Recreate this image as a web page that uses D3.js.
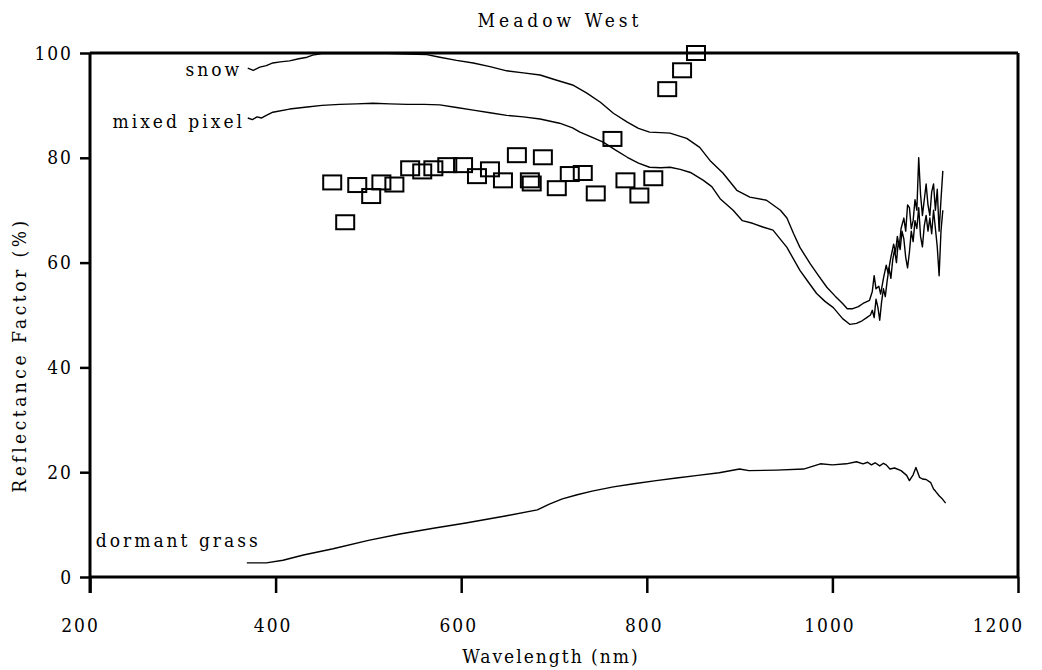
<!DOCTYPE html>
<html>
<head>
<meta charset="utf-8">
<script src="https://cdn.jsdelivr.net/npm/d3@7"></script>
<style>
  body { margin: 0; background: #fff; }
  text { font-family: "DejaVu Serif Condensed", "DejaVu Serif", serif; font-stretch: condensed; fill: #000; }
</style>
</head>
<body>
<svg id="chart"></svg>
<script>
// spectra: [wavelength nm, reflectance %]
const snow = [
  [370, 97.1], [376, 96.7], [383, 97.3], [390, 97.6], [397, 98.1], [405, 98.3], [415, 98.5],
  [425, 98.9], [434, 99.2], [440, 99.6], [450, 99.9], [480, 99.9], [520, 99.9], [563, 99.7],
  [577, 99.2], [595, 98.6], [613, 98.1], [631, 97.4], [649, 96.6], [667, 96.2], [685, 95.8],
  [703, 94.8], [720, 93.9], [735, 92.4], [750, 90.6], [764, 88.5], [779, 86.8], [791, 85.6],
  [803, 84.9], [815, 84.8], [825, 84.7], [843, 83.7], [857, 82.0], [868, 79.5], [882, 77.1],
  [897, 73.8], [911, 72.5], [929, 71.9], [944, 70.0], [951, 68.5], [958, 65.6], [965, 62.9],
  [976, 59.8], [985, 57.5], [994, 55.3], [1003, 53.6], [1011, 52.2], [1016, 51.2], [1022, 51.2],
  [1028, 51.6], [1033, 52.2], [1040, 52.8], [1043, 54.5], [1045, 57.5], [1047, 55.0], [1050, 55.5],
  [1052, 54.0], [1055, 57.0], [1058, 59.5], [1060, 58.0], [1063, 61.0], [1066, 63.5], [1068, 62.0],
  [1070, 65.0], [1072, 63.0], [1074, 66.5], [1077, 68.5], [1079, 66.0], [1081, 71.0], [1083, 70.5],
  [1085, 66.5], [1087, 68.0], [1089, 72.0], [1091, 70.0], [1093, 80.0], [1095, 73.0], [1097, 69.0],
  [1099, 72.0], [1101, 75.0], [1103, 71.0], [1105, 69.0], [1107, 73.5], [1109, 75.0], [1111, 70.0],
  [1113, 74.0], [1115, 66.0], [1117, 72.0], [1119, 77.5]
]

const mixedPixel = [
  [370, 87.6], [375, 87.3], [380, 87.8], [385, 87.6], [390, 88.1], [397, 88.7], [415, 89.3],
  [434, 89.7], [450, 90.0], [469, 90.2], [487, 90.3], [505, 90.4], [523, 90.3], [542, 90.2],
  [560, 90.2], [577, 90.1], [595, 89.6], [613, 89.1], [631, 88.6], [649, 88.1], [667, 87.8],
  [685, 87.4], [706, 86.6], [720, 85.7], [728, 84.9], [740, 84.0], [753, 83.0], [766, 81.5],
  [779, 80.1], [791, 79.0], [803, 78.2], [815, 78.1], [825, 78.2], [836, 77.8], [847, 77.2],
  [861, 75.7], [870, 74.5], [879, 72.2], [893, 70.0], [903, 68.0], [914, 67.5], [925, 66.8],
  [936, 66.2], [951, 62.9], [965, 58.5], [974, 56.3], [983, 54.1], [992, 52.6], [1001, 51.4],
  [1011, 49.3], [1019, 48.2], [1026, 48.4], [1032, 48.9], [1037, 49.5], [1041, 50.0], [1043, 50.9],
  [1045, 49.5], [1047, 53.0], [1049, 51.5], [1051, 49.0], [1053, 52.5], [1055, 55.0], [1057, 53.5],
  [1059, 56.5], [1061, 59.0], [1063, 57.0], [1065, 60.5], [1067, 62.5], [1069, 60.0], [1071, 64.0],
  [1073, 62.5], [1075, 66.0], [1077, 64.5], [1079, 61.0], [1081, 59.0], [1083, 62.0], [1085, 66.0],
  [1087, 64.0], [1089, 68.0], [1091, 66.5], [1093, 70.5], [1095, 65.0], [1097, 63.0], [1099, 67.0],
  [1101, 69.0], [1103, 66.0], [1105, 68.5], [1107, 65.5], [1109, 70.0], [1111, 66.5], [1113, 63.0],
  [1115, 57.5], [1117, 66.0], [1119, 70.0]
]

const dormantGrass = [
  [369, 2.7], [390, 2.7], [408, 3.2], [430, 4.2], [462, 5.4], [500, 7.0], [534, 8.2], [570, 9.3],
  [605, 10.3], [649, 11.7], [682, 12.8], [695, 13.9], [709, 14.9], [725, 15.7], [741, 16.4],
  [764, 17.2], [786, 17.8], [810, 18.4], [832, 18.9], [855, 19.4], [878, 19.9], [900, 20.6],
  [910, 20.3], [940, 20.4], [969, 20.6], [987, 21.6], [1000, 21.4], [1015, 21.6], [1026, 22.0],
  [1033, 21.6], [1038, 21.9], [1042, 21.4], [1046, 21.8], [1051, 21.2], [1055, 21.7], [1058, 21.4],
  [1062, 20.6], [1067, 20.8], [1074, 20.3], [1080, 19.4], [1083, 18.4], [1087, 19.5], [1090, 20.9],
  [1094, 19.0], [1097, 18.7], [1101, 18.6], [1106, 18.0], [1109, 16.8], [1111, 16.4], [1115, 15.5],
  [1118, 15.0], [1122, 14.1]
]

// square markers (field measurements)
const fieldPoints = [
  [461, 75.3], [488, 74.8], [503, 72.7], [514, 75.3], [528, 74.9], [475, 67.7], [545, 78.0],
  [558, 77.4], [570, 78.0], [585, 78.6], [602, 78.6], [617, 76.5], [631, 77.8], [645, 75.7],
  [660, 80.5], [688, 80.1], [674, 75.7], [676, 75.1], [703, 74.2], [717, 76.9], [731, 77.1],
  [745, 73.2], [763, 83.6], [777, 75.7], [792, 72.8], [807, 76.1], [822, 93.1], [838, 96.7],
  [853, 100.0]
]

const xTicks = [200, 400, 600, 800, 1000, 1200]
const yTicks = [0, 20, 40, 60, 80, 100]

// curve labels: text, wavelength/value where the label ends
const curveLabels = [
  {text: 'snow', x: 364, y: 95.6},
  {text: 'mixed pixel', x: 367, y: 85.7},
  {text: 'dormant grass', x: 384, y: 5.7}
]

class SpectraChart {
    constructor(config) {
        this.config = {
            parentElement: config.parentElement,
            containerWidth: config.containerWidth || 1042,
            containerHeight: config.containerHeight || 670,
            margin: {top: 53, right: 24, bottom: 93, left: 90}
        }
        this.initVis()
    }

    initVis() {
        let vis = this
        let m = vis.config.margin

        vis.width = vis.config.containerWidth - m.left - m.right
        vis.height = vis.config.containerHeight - m.top - m.bottom

        vis.svg = d3.select(vis.config.parentElement)
            .attr('width', vis.config.containerWidth)
            .attr('height', vis.config.containerHeight)

        vis.chart = vis.svg.append('g')
            .attr('transform', `translate(${m.left},${m.top})`)

        vis.x = d3.scaleLinear().domain([200, 1200]).range([0, vis.width])
        vis.y = d3.scaleLinear().domain([0, 100]).range([vis.height, 0])

        let line = d3.line()
            .x(d => vis.x(d[0]))
            .y(d => vis.y(d[1]))

        vis.chart.selectAll('.spectrum')
            .data([snow, mixedPixel, dormantGrass])
            .join('path')
                .attr('class', 'spectrum')
                .attr('d', line)
                .attr('fill', 'none')
                .attr('stroke', '#000')
                .attr('stroke-width', 1.4)
                .attr('stroke-linejoin', 'round')

        vis.chart.selectAll('.field')
            .data(fieldPoints)
            .join('rect')
                .attr('class', 'field')
                .attr('x', d => vis.x(d[0]) - 9)
                .attr('y', d => vis.y(d[1]) - 7)
                .attr('width', 18)
                .attr('height', 14)
                .attr('fill', 'none')
                .attr('stroke', '#000')
                .attr('stroke-width', 2)

        vis.chart.selectAll('.curve-label')
            .data(curveLabels)
            .join('text')
                .attr('class', 'curve-label')
                .attr('x', d => vis.x(d.x))
                .attr('y', d => vis.y(d.y))
                .attr('text-anchor', 'end')
                .attr('font-size', 19)
                .attr('letter-spacing', 3)
                .text(d => d.text)

        // frame: top and right edges
        vis.chart.append('line')
            .attr('x1', 0).attr('x2', vis.width)
            .attr('y1', 0).attr('y2', 0)
            .attr('stroke', '#000').attr('stroke-width', 3)
        vis.chart.append('line')
            .attr('x1', vis.width).attr('x2', vis.width)
            .attr('y1', 0).attr('y2', vis.height)
            .attr('stroke', '#000').attr('stroke-width', 3)

        let xAxis = d3.axisBottom(vis.x).tickValues(xTicks).tickSize(16).tickPadding(26).tickFormat(d3.format('d'))
        let yAxis = d3.axisLeft(vis.y).tickValues(yTicks).tickSize(10).tickPadding(7)

        let gx = vis.chart.append('g')
            .attr('transform', `translate(0,${vis.height})`)
            .call(xAxis)
        let gy = vis.chart.append('g').call(yAxis)

        ;[gx, gy].forEach(g => {
            g.select('.domain').attr('stroke-width', 3)
            g.selectAll('.tick line').attr('stroke-width', 2.5)
            g.selectAll('.tick text')
                .attr('font-family', '"DejaVu Serif Condensed", "DejaVu Serif", serif')
                .attr('font-size', 19)
                .attr('letter-spacing', 2)
        })
        gx.select('.domain').attr('d', `M0,0H${vis.width}`)
        gy.select('.domain').attr('d', `M0,0V${vis.height + 16}`)

        // end labels sit a little inward in the original
        gx.selectAll('.tick text')
            .attr('dx', d => d === 200 ? -10 : d === 1200 ? -20 : -3)

        vis.svg.append('text')
            .attr('x', m.left + vis.width / 2 + 6)
            .attr('y', 27)
            .attr('text-anchor', 'middle')
            .attr('font-size', 19)
            .attr('letter-spacing', 4)
            .text('Meadow West')

        vis.svg.append('text')
            .attr('x', m.left + vis.width / 2 - 3)
            .attr('y', 663)
            .attr('text-anchor', 'middle')
            .attr('font-size', 19)
            .attr('letter-spacing', 2)
            .text('Wavelength (nm)')

        vis.svg.append('text')
            .attr('transform', `translate(26,${m.top + vis.height / 2 + 40}) rotate(-90)`)
            .attr('text-anchor', 'middle')
            .attr('font-size', 19)
            .attr('letter-spacing', 3.5)
            .text('Reflectance Factor (%)')
    }
}

new SpectraChart({parentElement: '#chart', containerWidth: 1042, containerHeight: 670})
</script>
</body>
</html>
